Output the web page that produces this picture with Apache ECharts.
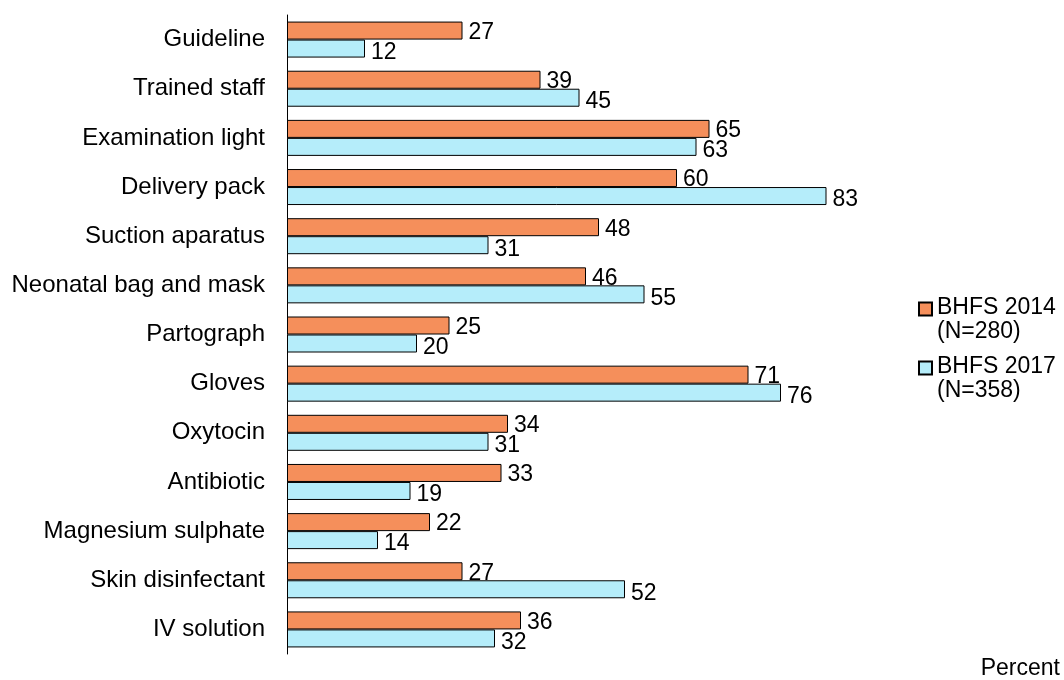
<!DOCTYPE html>
<html>
<head>
<meta charset="utf-8">
<script src="https://cdn.jsdelivr.net/npm/echarts@6/dist/echarts.min.js"></script>
<style>
html,body{margin:0;padding:0;background:#fff;}
#chart{width:1064px;height:680px;}
</style>
</head>
<body>
<div id="chart"></div>
<script>
const categories = ["Guideline","Trained staff","Examination light","Delivery pack","Suction aparatus","Neonatal bag and mask","Partograph","Gloves","Oxytocin","Antibiotic","Magnesium sulphate","Skin disinfectant","IV solution"];
const seriesNames = ["BHFS 2014\n(N=280)","BHFS 2017\n(N=358)"];
const values2014 = [27,39,65,60,48,46,25,71,34,33,22,27,36];
const values2017 = [12,45,63,83,31,55,20,76,31,19,14,52,32];
const axisTitle = "Percent";

const font = "Liberation Sans, Arial, sans-serif";
const chart = echarts.init(document.getElementById('chart'));
function mkSeries(name, data, color, dy) {
  return {
    name: name, type: 'bar', data: data,
    barWidth: 18, barGap: '0%',
    itemStyle: { color: color, borderColor: '#000', borderWidth: 1 },
    label: { show: true, position: 'right', distance: 6, offset: [0, dy],
      color: '#000', fontSize: 23, fontFamily: font },
    animation: false
  };
}
chart.setOption({
  animation: false,
  grid: { left: 287, width: 650, top: 15, bottom: 26, containLabel: false },
  xAxis: { type: 'value', min: 0, max: 100, show: false },
  yAxis: {
    type: 'category', data: categories, inverse: true,
    axisLine: { show: true, lineStyle: { color: '#000', width: 1 } },
    axisTick: { show: false },
    axisLabel: { color: '#000', fontSize: 24, fontFamily: font, margin: 22 }
  },
  legend: {
    orient: 'vertical', left: 918, top: 296, padding: 0,
    itemWidth: 13, itemHeight: 35, itemGap: 11,
    icon: 'path://M0,0L10,0L10,10L0,10Z M0,26.9',
    textStyle: { color: '#000', fontSize: 23, fontFamily: font, lineHeight: 24 },
    data: seriesNames
  },
  graphic: [{
    type: 'text', right: 4, top: 657,
    style: { text: axisTitle, fill: '#000', fontSize: 23, fontFamily: font }
  }],
  series: [
    mkSeries(seriesNames[0], values2014, '#F58F5B', 2),
    mkSeries(seriesNames[1], values2017, '#B5EDFA', 4)
  ]
});
</script>
</body>
</html>
